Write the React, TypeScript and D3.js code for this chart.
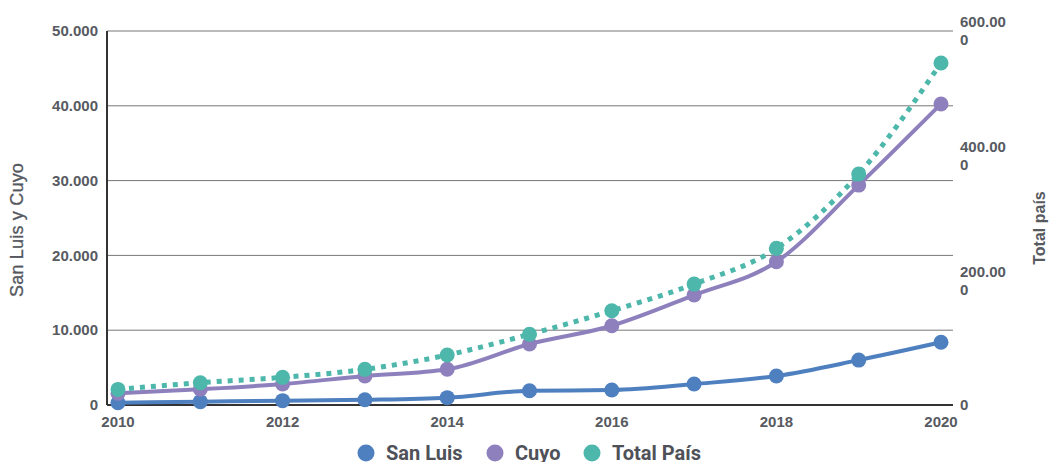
import React from 'react';
import * as d3 from 'd3';

const years = [2010, 2011, 2012, 2013, 2014, 2015, 2016, 2017, 2018, 2019, 2020];
const sanLuis = [300, 450, 580, 700, 980, 1900, 2000, 2800, 3880, 6000, 8380];
const cuyo = [1560, 2100, 2800, 3880, 4770, 8150, 10600, 14700, 19150, 29400, 40250];
const totalPais = [25000, 35800, 44400, 57200, 80200, 113400, 151200, 194000, 251300, 370500, 548600];
const leftTicks = [0, 10000, 20000, 30000, 40000, 50000];
const rightTicks = [0, 200000, 400000, 600000];
const xTicks = [2010, 2012, 2014, 2016, 2018, 2020];

const W = 1049;
const H = 462;
const font = '"Liberation Sans", Arial, sans-serif';
const legendFont = 'Roboto, "Open Sans", sans-serif';
const tickColor = '#575a61';

const fmtLeft = (v: number) => (v === 0 ? '0' : d3.format(',.3f')(v / 1000).replace(/,/g, '.'));

export default function App() {
  const left = 107, right = 953, top = 31, bottom = 405;
  const x = d3.scaleLinear().domain([2010, 2020]).range([118, 941]);
  const yL = d3.scaleLinear().domain([0, 50000]).range([bottom, top]);
  const yR = d3.scaleLinear().domain([0, 600000]).range([bottom, top]);

  const lineL = d3.line<number>().x((_, i) => x(years[i])).y(d => yL(d)).curve(d3.curveMonotoneX);
  const lineR = d3.line<number>().x((_, i) => x(years[i])).y(d => yR(d)).curve(d3.curveMonotoneX);

  const series = [
    { name: 'San Luis', data: sanLuis, color: '#4e7fbe', line: lineL, y: yL, dash: undefined, w: 4 },
    { name: 'Cuyo', data: cuyo, color: '#8e80bd', line: lineL, y: yL, dash: undefined, w: 4 },
    { name: 'Total País', data: totalPais, color: '#4db7ab', line: lineR, y: yR, dash: '5 6', w: 5 },
  ];

  const legendX = [366, 495, 592];

  return (
    <svg width={W} height={H} style={{ position: 'absolute', left: 0, top: 0 }} fontFamily={font}>
      <rect width={W} height={H} fill="#fff" />
      {leftTicks.map(t => (
        <g key={t}>
          {t > 0 && <line x1={left} x2={right} y1={yL(t)} y2={yL(t)} stroke="#777" strokeWidth={1} />}
          <text x={98} y={yL(t)} dy="0.35em" textAnchor="end" fontSize={15} fontWeight="bold" fill={tickColor}>
            {fmtLeft(t)}
          </text>
        </g>
      ))}
      {rightTicks.map(t => {
        const s = t === 0 ? ['0'] : [d3.format('.3f')(t / 1000).slice(0, 6), '0'];
        const y0 = yR(t) - (s.length - 1) * 9;
        return (
          <text key={t} x={960} y={y0} fontSize={15} fontWeight="bold" fill={tickColor}>
            {s.map((line, i) => (
              <tspan key={i} x={960} dy={i === 0 ? '0.35em' : 18}>{line}</tspan>
            ))}
          </text>
        );
      })}
      {xTicks.map(t => (
        <text key={t} x={x(t)} y={427} textAnchor="middle" fontSize={15} fontWeight="bold" fill={tickColor}>
          {t}
        </text>
      ))}
      <line x1={left} x2={left} y1={top} y2={bottom} stroke="#333" strokeWidth={2} />
      <line x1={left} x2={right} y1={bottom} y2={bottom} stroke="#333" strokeWidth={2} />
      <text transform={`translate(23,230) rotate(-90)`} textAnchor="middle" fontSize={18} fill="#55585e" stroke="#55585e" strokeWidth={0.3} letterSpacing={0.2}>
        San Luis y Cuyo
      </text>
      <text transform={`translate(1045,228) rotate(-90)`} textAnchor="middle" fontSize={16} fontWeight="bold" fill={tickColor}>
        Total país
      </text>
      {series.map(s => (
        <g key={s.name}>
          <path d={s.line(s.data) || ''} fill="none" stroke={s.color} strokeWidth={s.w} strokeDasharray={s.dash} />
          {s.data.map((d, i) => (
            <circle key={i} cx={x(years[i])} cy={s.y(d)} r={7.5} fill={s.color} />
          ))}
        </g>
      ))}
      {series.map((s, i) => (
        <g key={s.name} transform={`translate(${legendX[i]},453)`}>
          <circle r={8.5} fill={s.color} />
          <text x={20} dy="0.35em" fontSize={20} fontWeight="bold" fill="#4f5159" fontFamily={legendFont}>{s.name}</text>
        </g>
      ))}
    </svg>
  );
}
